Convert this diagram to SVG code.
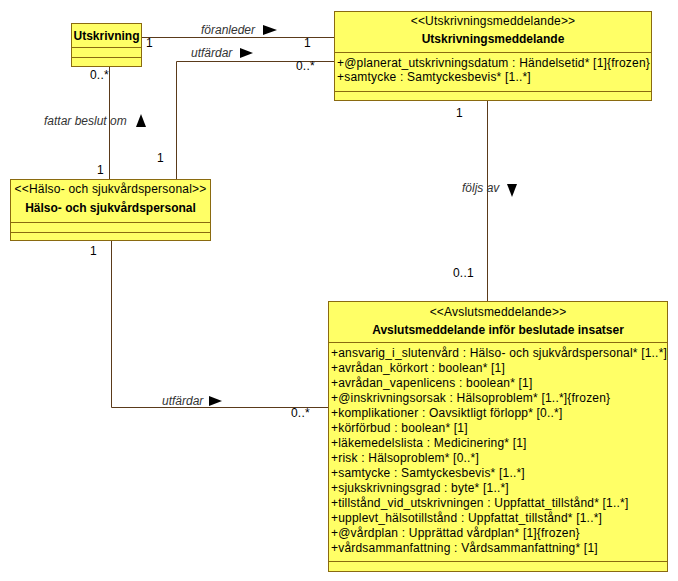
<svg xmlns="http://www.w3.org/2000/svg" width="678" height="581" viewBox="0 0 678 581">
<style>
.box{fill:#FFFF66;stroke:#8A6A10;stroke-width:1}
.sep{stroke:#8A6A10;stroke-width:1;fill:none}
.t{font-family:"Liberation Sans",Arial,sans-serif;font-size:12px;fill:#000;letter-spacing:0.2px}
.b{font-weight:bold;letter-spacing:0}
.c{text-anchor:middle}
.i{font-style:italic;fill:#333;letter-spacing:0}
.ln{stroke:#5A3A1A;stroke-width:1;fill:none}
.ar{fill:#000}
</style>
<rect width="678" height="581" fill="#fff"/>
<g id="connectors">
<path class="ln" d="M142,37.5 H334"/>
<path class="ln" d="M334,61.5 H176.5 V179"/>
<path class="ln" d="M109.5,67 V179"/>
<path class="ln" d="M487.5,101 V301"/>
<path class="ln" d="M111.5,241 V407.5 H328"/>
<text class="t i" x="201" y="34">föranleder</text>
<polygon class="ar" points="263,25 277,30 263,35"/>
<text class="t" x="146" y="47">1</text>
<text class="t" x="304" y="47">1</text>
<text class="t i" x="191" y="57">utfärdar</text>
<polygon class="ar" points="240,48 253,53 240,58"/>
<text class="t" x="296" y="70">0..*</text>
<text class="t" x="157" y="162">1</text>
<text class="t" x="90" y="79">0..*</text>
<text class="t i" x="44" y="125">fattar beslut om</text>
<polygon class="ar" points="136,127 141,114 146,127"/>
<text class="t" x="97" y="174">1</text>
<text class="t" x="456" y="117">1</text>
<text class="t i" x="462" y="192">följs av</text>
<polygon class="ar" points="507,184 517,184 512,197"/>
<text class="t" x="453" y="277">0..1</text>
<text class="t" x="90" y="255">1</text>
<text class="t i" x="162" y="405">utfärdar</text>
<polygon class="ar" points="209,396 222,401 209,406"/>
<text class="t" x="291" y="417">0..*</text>
</g>
<g id="utskrivning">
<rect class="box" x="71.5" y="23.5" width="70" height="43"/>
<path class="sep" d="M71.5,47.5 H141.5 M71.5,57.5 H141.5"/>
<text class="t b c" x="106.5" y="40">Utskrivning</text>
</g>
<g id="utskrivningsmeddelande">
<rect class="box" x="334.5" y="11.5" width="317" height="89"/>
<path class="sep" d="M334.5,52.5 H651.5 M334.5,91.5 H651.5"/>
<text class="t c" x="493" y="25">&lt;&lt;Utskrivningsmeddelande&gt;&gt;</text>
<text class="t b c" x="493" y="43">Utskrivningsmeddelande</text>
<text class="t" x="337" y="67">+@planerat_utskrivningsdatum : Händelsetid* [1]{frozen}</text>
<text class="t" x="337" y="81">+samtycke : Samtyckesbevis* [1..*]</text>
</g>
<g id="halso">
<rect class="box" x="10.5" y="179.5" width="200" height="61"/>
<path class="sep" d="M10.5,222.5 H210.5 M10.5,232.5 H210.5"/>
<text class="t c" x="110.5" y="193">&lt;&lt;Hälso- och sjukvårdspersonal&gt;&gt;</text>
<text class="t b c" x="110.5" y="212">Hälso- och sjukvårdspersonal</text>
</g>
<g id="avslut">
<rect class="box" x="328.5" y="301.5" width="339" height="270"/>
<path class="sep" d="M328.5,342.5 H667.5 M328.5,561.5 H667.5"/>
<text class="t c" x="498" y="316">&lt;&lt;Avslutsmeddelande&gt;&gt;</text>
<text class="t b c" x="498" y="334">Avslutsmeddelande inför beslutade insatser</text>
<text class="t" x="331" y="357">+ansvarig_i_slutenvård : Hälso- och sjukvårdspersonal* [1..*]</text>
<text class="t" x="331" y="372">+avrådan_körkort : boolean* [1]</text>
<text class="t" x="331" y="387">+avrådan_vapenlicens : boolean* [1]</text>
<text class="t" x="331" y="402">+@inskrivningsorsak : Hälsoproblem* [1..*]{frozen}</text>
<text class="t" x="331" y="417">+komplikationer : Oavsiktligt förlopp* [0..*]</text>
<text class="t" x="331" y="432">+körförbud : boolean* [1]</text>
<text class="t" x="331" y="447">+läkemedelslista : Medicinering* [1]</text>
<text class="t" x="331" y="462">+risk : Hälsoproblem* [0..*]</text>
<text class="t" x="331" y="477">+samtycke : Samtyckesbevis* [1..*]</text>
<text class="t" x="331" y="492">+sjukskrivningsgrad : byte* [1..*]</text>
<text class="t" x="331" y="507">+tillstånd_vid_utskrivningen : Uppfattat_tillstånd* [1..*]</text>
<text class="t" x="331" y="522">+upplevt_hälsotillstånd : Uppfattat_tillstånd* [1..*]</text>
<text class="t" x="331" y="537">+@vårdplan : Upprättad vårdplan* [1]{frozen}</text>
<text class="t" x="331" y="552">+vårdsammanfattning : Vårdsammanfattning* [1]</text>
</g>
</svg>
